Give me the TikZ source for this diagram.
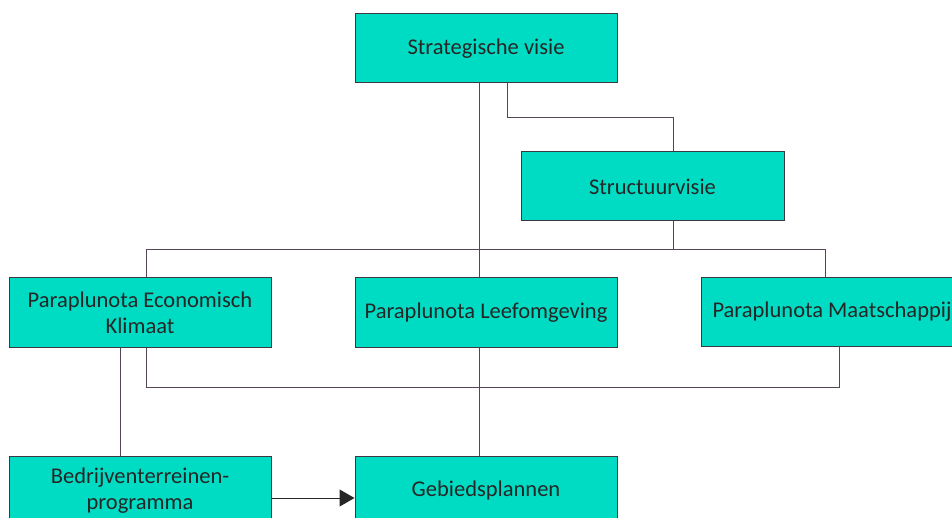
\documentclass[tikz,border=0pt]{standalone}
\usepackage{fontspec}
\setmainfont{Carlito}
\usetikzlibrary{arrows.meta}
\definecolor{boxfill}{RGB}{0,220,195}
\definecolor{boxline}{RGB}{60,55,65}
\definecolor{conn}{RGB}{85,70,85}
\begin{document}
\begin{tikzpicture}[x=1pt,y=-1pt,
  box/.style={draw=boxline,line width=1pt,fill=boxfill,rectangle,
    minimum width=262pt,minimum height=69pt,inner sep=0pt,align=center,
    font=\fontsize{22.5}{26}\selectfont,text=black!85},
  link/.style={draw=conn,line width=1pt}]
\useasboundingbox (0,0) rectangle (952,518);
\node[box] (strat) at (486,48.5) {Strategische visie};
\node[box,minimum width=263pt] (struct) at (652.5,186.5) {Structuurvisie};
\node[box] (eco) at (140,312.5) {Paraplunota Economisch\\Klimaat};
\node[box] (leef) at (486,312.5) {Paraplunota Leefomgeving};
\node[box] (maat) at (832,312) {Paraplunota Maatschappij};
\node[box] (bedr) at (140,490.5) {Bedrijventerreinen-\\programma};
\node[box] (gebied) at (486,490.5) {Gebiedsplannen};
\draw[link] ([xshift=-7pt]strat.south) -- ([xshift=-7pt]leef.north);
\draw[link] ([xshift=21pt]strat.south) -- ++(0,34) -| ([xshift=20.5pt]struct.north);
\draw[link] ([xshift=20.5pt]struct.south) -- ++(0,28) coordinate (j);
\draw[link] ([xshift=6pt]eco.north) |- (j) -| ([xshift=-7pt]maat.north);
\draw[link] ([xshift=6pt]eco.south) -- ++(0,40) -| ([xshift=7pt]maat.south);
\draw[link] ([xshift=-20pt]eco.south) -- ([xshift=-20pt]bedr.north);
\draw[link] ([xshift=-7pt]leef.south) -- ([xshift=-7pt]gebied.north);
\draw[link,-{Triangle[length=15pt,width=17pt]},draw=black!85,fill=black] ([yshift=-7.5pt]bedr.east) -- ([yshift=-7.5pt]gebied.west);
\end{tikzpicture}
\end{document}
